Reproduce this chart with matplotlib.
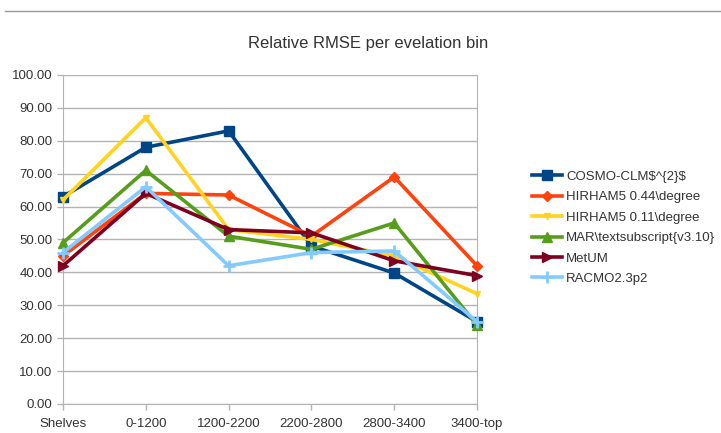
import matplotlib
matplotlib.use('Agg')
import matplotlib.pyplot as plt
from matplotlib.lines import Line2D

plt.rcParams['font.family'] = ['Liberation Sans', 'DejaVu Sans']

bins = ['Shelves', '0-1200', '1200-2200', '2200-2800', '2800-3400', '3400-top']

cosmo = [63.0, 78.0, 83.0, 48.0, 39.8, 25.0]
hirham44 = [45.0, 64.0, 63.5, 51.0, 69.0, 42.0]
hirham11 = [62.0, 87.0, 53.0, 50.0, 45.0, 33.5]
mar = [49.0, 71.0, 51.0, 47.0, 55.0, 24.0]
metum = [42.0, 64.0, 53.0, 52.0, 43.5, 39.0]
racmo = [46.0, 66.0, 42.0, 46.0, 46.5, 25.0]

# name, values, colour, marker, marker size
series = [
    (r'COSMO-CLM\$^{2}\$', cosmo, '#004586', 's', 7),
    (r'HIRHAM5 0.44\degree', hirham44, '#ff420e', 'D', 5.5),
    (r'HIRHAM5 0.11\degree', hirham11, '#ffd320', 'v', 5),
    (r'MAR\textsubscript{v3.10}', mar, '#579d1c', '^', 7.5),
    ('MetUM', metum, '#7e0021', '>', 7.5),
    ('RACMO2.3p2', racmo, '#83caff', '+', 8),
]

text_col = '#333333'
grid_col = '#b3b3b3'

fig = plt.figure(figsize=(7.21, 4.33), dpi=100)
ax = fig.add_axes([0.0874, 0.067, 0.5742, 0.76])

x = list(range(len(bins)))
for name, vals, col, mk, ms in series:
    ax.plot(x, vals, color=col, linewidth=2.6, marker=mk, markersize=ms,
            markeredgewidth=2 if mk == '+' else 1, markeredgecolor=col,
            label=name, clip_on=False, zorder=3)

ax.set_xlim(0, 5)
ax.set_ylim(0, 100)
ax.set_xticks(x)
ax.set_xticklabels(bins)
ax.set_yticks(range(0, 101, 10))
ax.set_yticklabels(['%.2f' % v for v in range(0, 101, 10)])
ax.tick_params(axis='both', colors=grid_col, labelcolor=text_col,
               labelsize=9.5, length=4, width=1)
ax.tick_params(axis='x', pad=6)
ax.grid(axis='y', color=grid_col, linewidth=1)
ax.set_axisbelow(True)
for side in ['left', 'bottom', 'right']:
    ax.spines[side].set_color(grid_col)
ax.spines['top'].set_visible(False)

fig.text(0.51, 0.9, 'Relative RMSE per evelation bin', ha='center',
         va='center', fontsize=12, color=text_col)

fig.add_artist(Line2D([0.007, 1.0], [0.975, 0.975], color='#999999',
                      linewidth=1))

ax.legend(loc='upper left', bbox_to_anchor=(1.12, 0.725), frameon=False,
          fontsize=9.5, handlelength=2.3, handletextpad=0.3,
          labelspacing=0.62, borderaxespad=0, labelcolor=text_col)

fig.savefig('out.png', dpi=100)
